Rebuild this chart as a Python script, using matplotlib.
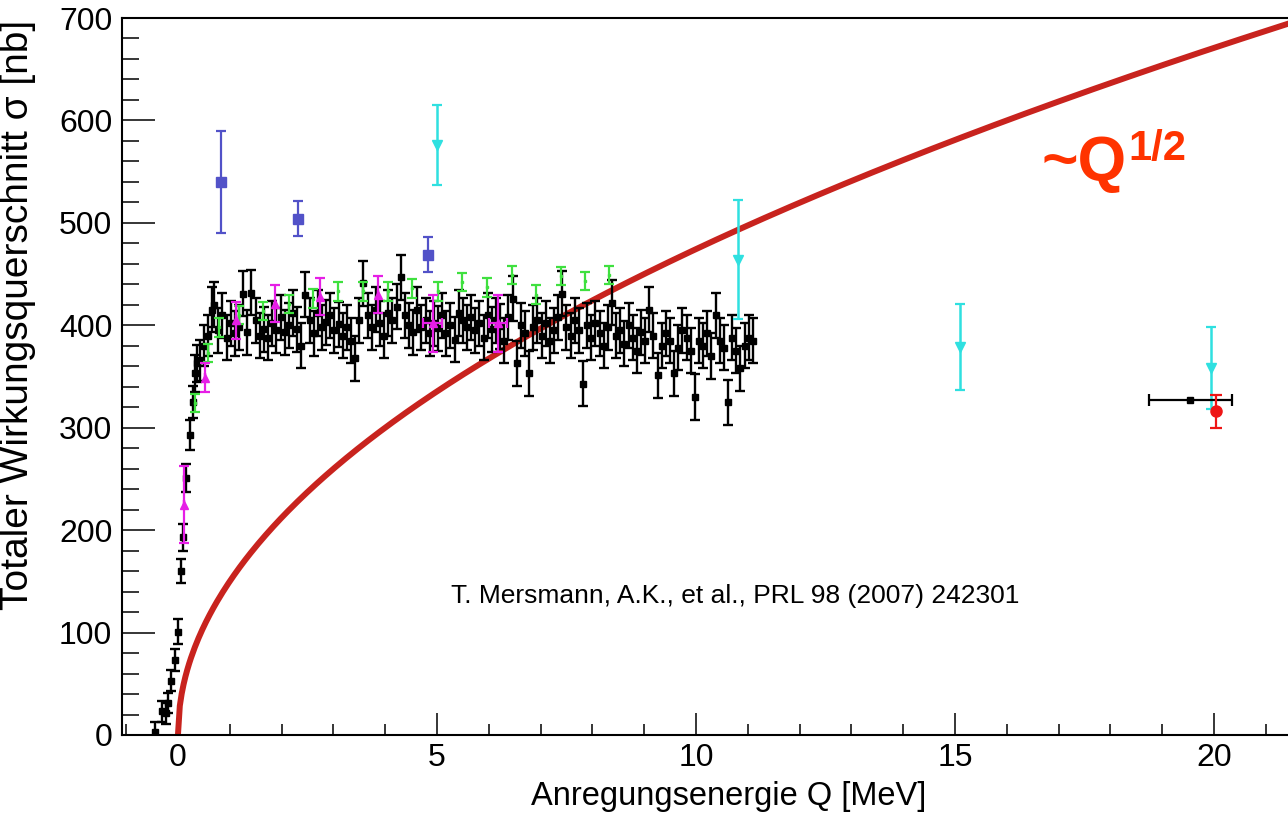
import numpy as np
import matplotlib
matplotlib.use('Agg')
from matplotlib import pyplot as plt

plt.rcParams['font.family'] = ['Liberation Sans', 'DejaVu Sans']

# black data, rising edge
rise_q = [-0.44, -0.31, -0.23, -0.19, -0.14, -0.06, 0.0, 0.06, 0.10, 0.15, 0.23, 0.29,
          0.33, 0.37, 0.42, 0.50, 0.58, 0.66, 0.70]
rise_s = [3, 23, 21, 31, 53, 73, 101, 160, 193, 251, 293, 325, 353, 363, 366, 380, 390, 415, 420]
rise_err = [10, 10, 10, 10, 10, 11, 12, 12, 13, 14, 15, 16, 18, 18, 20, 20, 20, 22, 22]

# black data, plateau (bins of 0.08 MeV from 0.78 MeV)
plateau_start = 0.78
plateau_step = 0.08
plateau_s = [395, 410, 388, 402, 392, 398, 431, 393, 432, 405,
             390, 396, 388, 402, 395, 408, 393, 400, 412, 396,
             380, 430, 405, 392, 412, 398, 403, 410, 395, 401,
             390, 398, 385, 368, 405, 441, 410, 398, 415, 402,
             390, 412, 405, 418, 447, 410, 400, 393, 415, 398,
             405, 392, 402, 397, 410, 392, 400, 386, 412, 405,
             398, 408, 395, 402, 388, 410, 396, 405, 399, 385,
             408, 426, 363, 400, 392, 353, 398, 405, 390, 402,
             385, 395, 408, 431, 398, 390, 405, 395, 343, 400,
             388, 402, 392, 380, 398, 422, 390, 395, 382, 400,
             388, 375, 393, 385, 415, 390, 351, 380, 392, 385,
             353, 378, 395, 388, 375, 330, 385, 380, 392, 370,
             410, 385, 378, 325, 388, 375, 358, 380, 388, 385]
plateau_err = 22

# other measurements
green_q = [0.33, 0.58, 0.79, 1.18, 1.64, 2.14, 2.60, 3.09, 3.57, 4.05, 4.52, 5.02,
           5.48, 5.96, 6.45, 6.91, 7.39, 7.86, 8.32]
green_s = [324, 373, 398, 410, 414, 421, 426, 433, 433, 433, 436, 433,
           442, 437, 449, 430, 448, 443, 449]
green_err = 9

magenta_q = [0.12, 0.52, 1.13, 1.87, 2.74, 3.86, 4.92, 6.18]
magenta_s = [225, 349, 405, 421, 428, 430, 402, 402]
magenta_err = [38, 14, 18, 18, 18, 18, 28, 28]
magenta_xerr = [0.0, 0.0, 0.0, 0.0, 0.0, 0.0, 0.18, 0.18]

blue_q = [0.83, 2.32, 4.83]
blue_s = [540, 504, 469]
blue_err = [50, 17, 17]

cyan_q = [5.0, 10.81, 15.1, 19.94]
cyan_s = [576, 464, 379, 358]
cyan_err = [39, 58, 42, 40]

black_hx_q = [19.54]
black_hx_s = [327]
black_hx_xerr = [0.8]

red_q = [20.04]
red_s = [316]
red_err = [16]

# ~Q^(1/2) curve
fit_coeff = 150.0
fit_qmax = 21.6

fig = plt.figure(figsize=(12.88, 8.15), dpi=100)
ax = fig.add_axes([122 / 1288, 80 / 815, 1166 / 1288, 717 / 815])

qc = np.linspace(0, fit_qmax, 600)
ax.plot(qc, fit_coeff * np.sqrt(qc), color='#c8231e', lw=4.3, zorder=2, solid_capstyle='butt')

plateau_q = plateau_start + plateau_step * np.arange(len(plateau_s))
ax.errorbar(rise_q, rise_s, yerr=rise_err, fmt='s', color='black', ms=4.5,
            elinewidth=1.7, capsize=3.5, capthick=1.7, zorder=3)
ax.errorbar(plateau_q, plateau_s, yerr=plateau_err, fmt='s', color='black', ms=4.5,
            elinewidth=1.7, capsize=3.5, capthick=1.7, zorder=3)

ax.errorbar(green_q, green_s, yerr=green_err, fmt='s', color='#3fe03f', ms=2,
            elinewidth=1.6, capsize=3.5, capthick=1.6, zorder=4)
ax.errorbar(magenta_q, magenta_s, yerr=magenta_err, xerr=magenta_xerr, fmt='^',
            color='#e61ee6', ms=6, elinewidth=1.6, capsize=3.5, capthick=1.6, zorder=4)
ax.errorbar(blue_q, blue_s, yerr=blue_err, fmt='s', color='#5252c8', ms=7,
            elinewidth=1.6, capsize=3.5, capthick=1.6, zorder=4)
ax.errorbar(cyan_q, cyan_s, yerr=cyan_err, fmt='v', color='#2fe0e0', ms=7,
            elinewidth=1.8, capsize=3.5, capthick=1.6, zorder=4)
ax.errorbar(black_hx_q, black_hx_s, xerr=black_hx_xerr, fmt='s', color='black', ms=4,
            elinewidth=1.6, capsize=4, capthick=1.6, zorder=4)
ax.errorbar(red_q, red_s, yerr=red_err, fmt='o', color='#ee1515', ms=8,
            elinewidth=1.6, capsize=4, capthick=1.6, zorder=5)

ax.set_xlim(-1.08, 21.43)
ax.set_ylim(0, 700)
ax.set_xticks([0, 5, 10, 15, 20])
ax.set_xticks(np.arange(-1, 22, 1), minor=True)
ax.set_yticks(np.arange(0, 701, 100))
ax.set_yticks(np.arange(0, 701, 20), minor=True)
ax.tick_params(axis='x', which='major', direction='in', length=16, width=1.1,
               labelsize=23, pad=6, top=False)
ax.tick_params(axis='x', which='minor', direction='in', length=8, width=1.1, top=False)
ax.tick_params(axis='y', which='major', direction='in', length=24, width=1.1,
               labelsize=23, pad=7, right=False)
ax.tick_params(axis='y', which='minor', direction='in', length=12, width=1.1, right=False)
for s in ['left', 'bottom', 'top']:
    ax.spines[s].set_linewidth(1.5)
ax.spines['right'].set_visible(False)

fig.text(18 / 1288, 1 - 20 / 815, 'Totaler Wirkungsquerschnitt σ [nb]', rotation=90,
         ha='center', va='top', fontsize=28)
fig.text(729 / 1288, 1 - 797 / 815, 'Anregungsenergie Q [MeV]', ha='center',
         va='center', fontsize=23.5)

ax.text(10.76, 136, 'T. Mersmann, A.K., et al., PRL 98 (2007) 242301', ha='center',
        va='center', fontsize=19)

fig.text(1041 / 1288, 1 - 180 / 815, '~Q', color='#ff3300', fontsize=45,
         fontweight='bold', ha='left', va='baseline')
fig.text(1128 / 1288, 1 - 160 / 815, '1/2', color='#ff3300', fontsize=30,
         fontweight='bold', ha='left', va='baseline')

fig.savefig('out.png', dpi=100)
